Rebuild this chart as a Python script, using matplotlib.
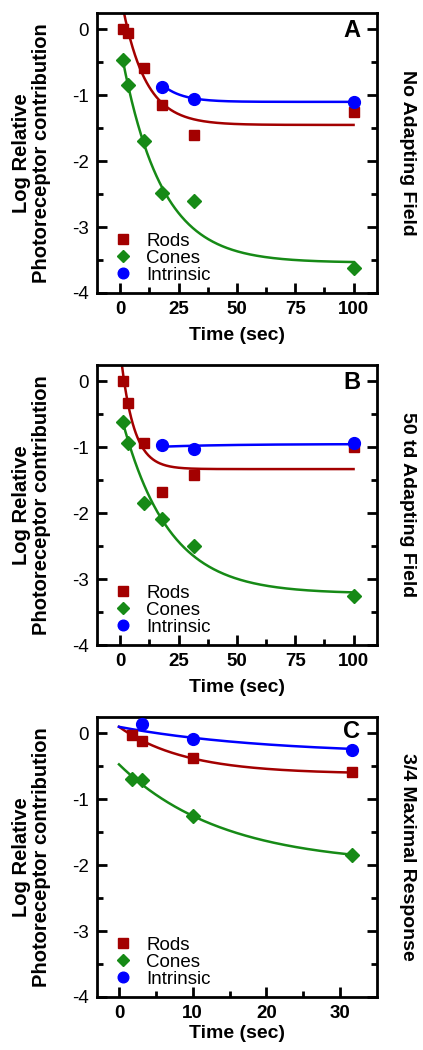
import numpy as np
import matplotlib
matplotlib.use('Agg')
import matplotlib.pyplot as plt

plt.rcParams['font.family'] = ['Liberation Sans', 'DejaVu Sans']

# Panel A - no adapting field
a_rod_t = [1, 3.16, 10, 17.8, 31.6, 100]
a_rod_y = [0.0, -0.05, -0.59, -1.15, -1.61, -1.26]
a_cone_t = [1, 3.16, 10, 17.8, 31.6, 100]
a_cone_y = [-0.47, -0.85, -1.69, -2.48, -2.61, -3.62]
a_int_t = [17.8, 31.6, 100]
a_int_y = [-0.87, -1.05, -1.10]

# Panel B - 50 td adapting field
b_rod_t = [1, 3.16, 10, 17.8, 31.6, 100]
b_rod_y = [0.0, -0.32, -0.94, -1.68, -1.42, -1.0]
b_cone_t = [1, 3.16, 10, 17.8, 31.6, 100]
b_cone_y = [-0.61, -0.93, -1.85, -2.09, -2.50, -3.26]
b_int_t = [17.8, 31.6, 100]
b_int_y = [-0.96, -1.03, -0.94]

# Panel C - 3/4 maximal response
c_rod_t = [1.78, 3.16, 10, 31.6]
c_rod_y = [-0.03, -0.11, -0.38, -0.58]
c_cone_t = [1.78, 3.16, 10, 31.6]
c_cone_y = [-0.69, -0.70, -1.25, -1.84]
c_int_t = [3.16, 10, 31.6]
c_int_y = [0.15, -0.08, -0.25]

# exponential fit parameters (asymptote, amplitude, tau, t_start, t_end)
a_fits = [(-1.45, 2.0, 10, 0, 100), (-3.54, 3.28, 17, 1, 100), (-1.10, 2.15, 8.5, 17.8, 100)]
b_fits = [(-1.33, 1.8, 5.6, 0, 100), (-3.22, 2.75, 20, 1, 100), (-0.95, -0.073, 30, 17.8, 100)]
c_fits = [(-0.615, 0.715, 9, 0, 31.6), (-2.0, 1.53, 14, 0, 31.6), (-0.322, 0.422, 20, 0, 31.6)]

rod_c = '#a30000'
cone_c = '#168a16'
int_c = '#0000ff'

panels = [
    ('A', 'No Adapting Field', a_rod_t, a_rod_y, a_cone_t, a_cone_y, a_int_t, a_int_y, a_fits,
     (-10, 110), [0, 25, 50, 75, 100], 12.5),
    ('B', '50 td Adapting Field', b_rod_t, b_rod_y, b_cone_t, b_cone_y, b_int_t, b_int_y, b_fits,
     (-10, 110), [0, 25, 50, 75, 100], 12.5),
    ('C', '3/4 Maximal Response', c_rod_t, c_rod_y, c_cone_t, c_cone_y, c_int_t, c_int_y, c_fits,
     (-3, 35), [0, 10, 20, 30], 5),
]
bottoms = [0.721, 0.3857, 0.0505]

fig = plt.figure(figsize=(4.23, 10.5), dpi=100)

for (letter, side, rt, ry, ct, cy, it, iy, fits, xlim, xt, minor), bot in zip(panels, bottoms):
    ax = fig.add_axes([0.229, bot, 0.662, 0.2667])
    colors = [rod_c, cone_c, int_c]
    for (a, b, tau, t0, t1), col in zip(fits, colors):
        t = np.linspace(t0, t1, 300)
        ax.plot(t, a + b * np.exp(-t / tau), color=col, lw=1.8, zorder=2)
    ax.plot(rt, ry, 's', color=rod_c, ms=7.5, label='Rods', zorder=3)
    ax.plot(ct, cy, 'D', color=cone_c, ms=7, label='Cones', zorder=3)
    ax.plot(it, iy, 'o', color=int_c, ms=8.5, label='Intrinsic', zorder=3)

    ax.set_xlim(*xlim)
    ax.set_ylim(-4, 0.25)
    ax.set_xticks(xt)
    ax.set_xticks(np.arange(minor, xt[-1], 2 * minor), minor=True)
    ax.set_yticks([0, -1, -2, -3, -4])
    ax.set_yticklabels(['0', '-1', '-2', '-3', '-4'])
    ax.set_yticks(np.arange(-3.5, 0.1, 1.0), minor=True)
    ax.tick_params(which='both', direction='in', right=True, top=False, width=2)
    ax.tick_params(which='major', length=7, labelsize=13.5)
    ax.tick_params(which='minor', length=4.5)
    ax.tick_params(axis='x', pad=6)
    ax.tick_params(axis='y', pad=6)
    for lab in ax.get_xticklabels():
        lab.set_fontweight('bold')
    for s in ax.spines.values():
        s.set_linewidth(2)

    ax.set_xlabel('Time (sec)', fontsize=14, fontweight='bold',
                  labelpad=2 if letter == 'C' else 6)
    ax.set_ylabel('Log Relative\nPhotoreceptor contribution', fontsize=14.5,
                  fontweight='bold', labelpad=15, linespacing=1.05)
    ly = 0.947 if letter == 'C' else 0.936
    ax.text(0.94, ly, letter, transform=ax.transAxes, fontsize=17,
            fontweight='bold', ha='right', va='center')
    ax.text(1.11, 0.5, side, transform=ax.transAxes, rotation=-90, fontsize=14,
            fontweight='bold', ha='center', va='center')
    ax.legend(loc='lower left', bbox_to_anchor=(0.032, 0.006), frameon=False,
              fontsize=13.5, handlelength=1.0, handletextpad=0.75,
              labelspacing=0.0, borderaxespad=0.0, markerscale=0.9)

fig.savefig('out.png', dpi=100)
